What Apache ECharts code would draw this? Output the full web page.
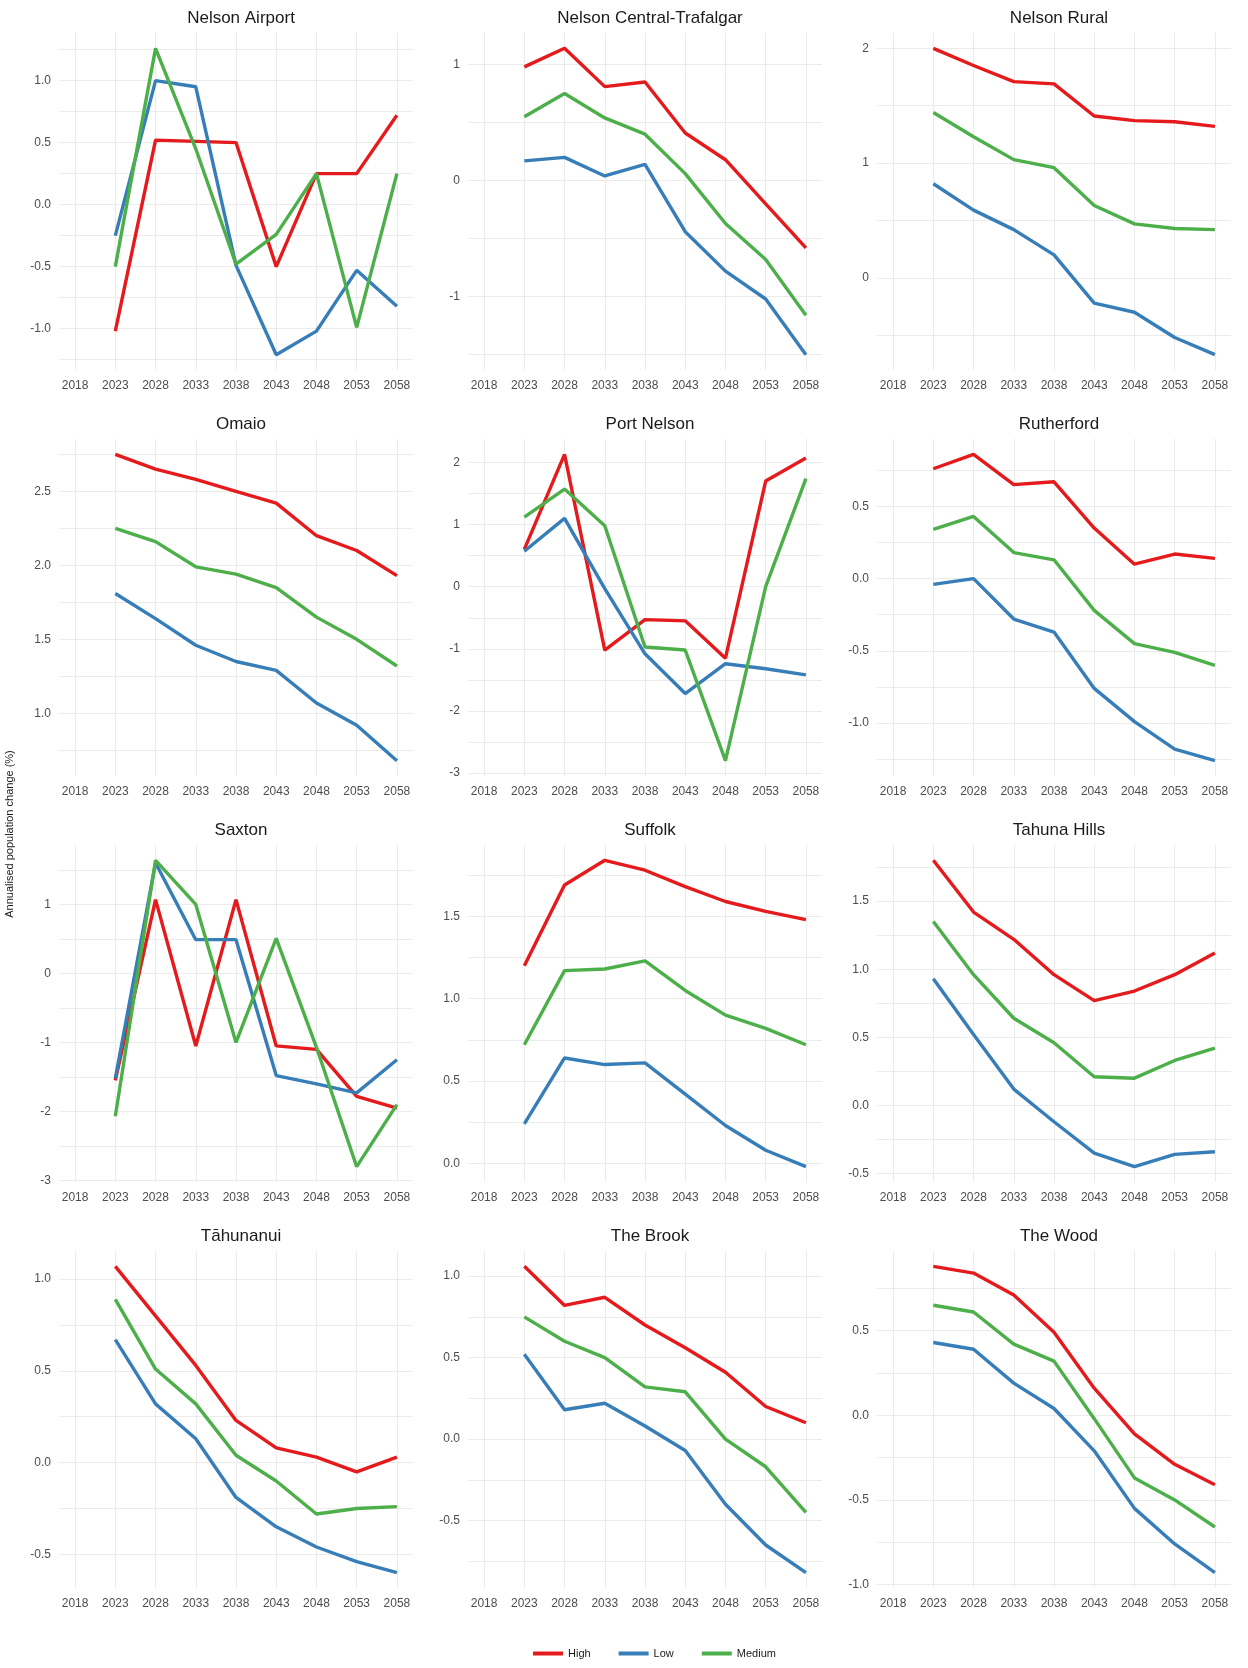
<!DOCTYPE html>
<html>
<head>
<meta charset="utf-8">
<script src="https://cdn.jsdelivr.net/npm/echarts@6/dist/echarts.min.js"></script>
<style>
  html, body { margin: 0; padding: 0; background: #fff; }
  #chart { width: 1248px; height: 1668px; }
</style>
</head>
<body>
<div id="chart"></div>
<script>
const years = [2023, 2028, 2033, 2038, 2043, 2048, 2053, 2058];
const yearTicks = [2018, 2023, 2028, 2033, 2038, 2043, 2048, 2053, 2058];
const areas = ['Nelson Airport', 'Nelson Central-Trafalgar', 'Nelson Rural',
  'Omaio', 'Port Nelson', 'Rutherford',
  'Saxton', 'Suffolk', 'Tahuna Hills',
  'Tāhunanui', 'The Brook', 'The Wood'];
const scenarios = ['High', 'Low', 'Medium'];
const colors = ['#E41A1C', '#377EB8', '#4DAF4A'];

const high = [
  [-1.02, 0.52, 0.51, 0.50, -0.50, 0.25, 0.25, 0.72],
  [0.98, 1.14, 0.81, 0.85, 0.41, 0.18, -0.20, -0.58],
  [2.00, 1.85, 1.71, 1.69, 1.41, 1.37, 1.36, 1.32],
  [2.75, 2.65, 2.58, 2.50, 2.42, 2.20, 2.10, 1.93],
  [0.60, 2.13, -1.02, -0.53, -0.55, -1.15, 1.70, 2.07],
  [0.76, 0.86, 0.65, 0.67, 0.35, 0.10, 0.17, 0.14],
  [-1.55, 1.07, -1.05, 1.07, -1.05, -1.10, -1.78, -1.95],
  [1.20, 1.69, 1.84, 1.78, 1.68, 1.59, 1.53, 1.48],
  [1.80, 1.42, 1.22, 0.96, 0.77, 0.84, 0.96, 1.12],
  [1.07, 0.80, 0.53, 0.23, 0.08, 0.03, -0.05, 0.03],
  [1.06, 0.82, 0.87, 0.70, 0.56, 0.41, 0.20, 0.10],
  [0.88, 0.84, 0.71, 0.49, 0.16, -0.11, -0.29, -0.41]
];
const low = [
  [-0.25, 1.00, 0.95, -0.49, -1.21, -1.02, -0.53, -0.82],
  [0.17, 0.20, 0.04, 0.14, -0.44, -0.78, -1.02, -1.50],
  [0.82, 0.59, 0.42, 0.20, -0.22, -0.30, -0.52, -0.67],
  [1.81, 1.64, 1.46, 1.35, 1.29, 1.07, 0.92, 0.68],
  [0.57, 1.10, -0.03, -1.08, -1.72, -1.24, -1.32, -1.42],
  [-0.04, 0.00, -0.28, -0.37, -0.76, -0.99, -1.18, -1.26],
  [-1.52, 1.60, 0.49, 0.49, -1.48, -1.60, -1.73, -1.25],
  [0.24, 0.64, 0.60, 0.61, 0.42, 0.23, 0.08, -0.02],
  [0.93, 0.52, 0.12, -0.12, -0.35, -0.45, -0.36, -0.34],
  [0.67, 0.32, 0.13, -0.19, -0.35, -0.46, -0.54, -0.60],
  [0.52, 0.18, 0.22, 0.08, -0.07, -0.40, -0.65, -0.82],
  [0.43, 0.39, 0.19, 0.04, -0.21, -0.55, -0.76, -0.93]
];
const medium = [
  [-0.50, 1.26, 0.45, -0.48, -0.24, 0.25, -0.99, 0.25],
  [0.55, 0.75, 0.54, 0.40, 0.06, -0.37, -0.68, -1.16],
  [1.44, 1.23, 1.03, 0.96, 0.63, 0.47, 0.43, 0.42],
  [2.25, 2.16, 1.99, 1.94, 1.85, 1.65, 1.50, 1.32],
  [1.12, 1.57, 0.98, -0.97, -1.02, -2.80, 0.00, 1.74],
  [0.34, 0.43, 0.18, 0.13, -0.22, -0.45, -0.51, -0.60],
  [-2.07, 1.64, 1.00, -1.00, 0.51, -1.07, -2.80, -1.90],
  [0.72, 1.17, 1.18, 1.23, 1.05, 0.90, 0.82, 0.72],
  [1.35, 0.96, 0.64, 0.46, 0.21, 0.20, 0.33, 0.42],
  [0.89, 0.51, 0.32, 0.04, -0.10, -0.28, -0.25, -0.24],
  [0.75, 0.60, 0.50, 0.32, 0.29, 0.00, -0.17, -0.45],
  [0.65, 0.61, 0.42, 0.32, -0.02, -0.37, -0.50, -0.66]
];
const yTicks = [
  [-1, -0.5, 0, 0.5, 1], [-1, 0, 1], [0, 1, 2],
  [1, 1.5, 2, 2.5], [-3, -2, -1, 0, 1, 2], [-1, -0.5, 0, 0.5],
  [-3, -2, -1, 0, 1], [0, 0.5, 1, 1.5], [-0.5, 0, 0.5, 1, 1.5],
  [-0.5, 0, 0.5, 1], [-0.5, 0, 0.5, 1], [-1, -0.5, 0, 0.5]
];

const chart = echarts.init(document.getElementById('chart'));
const grids = [], xAxes = [], yAxes = [], series = [], titles = [];
const font = 'Liberation Sans, Arial';
const gridLine = { show: true, lineStyle: { color: '#ebebeb', width: 1 } };
const labelStyle = { color: '#4d4d4d', fontSize: 12, fontFamily: font };

areas.forEach((name, i) => {
  const col = i % 3, row = Math.floor(i / 3);
  const left = 59 + col * 409, top = 33 + row * 406, w = 354, h = 337;
  grids.push({ left: left, top: top, width: w, height: h });
  titles.push({
    text: name, left: left + w / 2, top: top - 28, textAlign: 'center',
    textStyle: { fontSize: 17, fontWeight: 'normal', color: '#1a1a1a', fontFamily: font }
  });
  // y range like ggplot: data range plus 5% each side
  const all = high[i].concat(low[i], medium[i]);
  const lo = Math.min(...all), hi = Math.max(...all), pad = (hi - lo) * 0.05;
  const mn = lo - pad, mx = hi + pad;
  const ticks = yTicks[i], step = ticks[1] - ticks[0];
  const dec = step < 1 ? 1 : 0;
  // major + minor grid lines
  const lines = [];
  for (let v = ticks[0] - step / 2; v <= ticks[ticks.length - 1] + step / 2 + 1e-9; v += step / 2) {
    if (v >= mn && v <= mx) lines.push(+v.toFixed(3));
  }
  xAxes.push({
    type: 'value', gridIndex: i, min: 2016, max: 2060,
    axisLine: { show: false },
    axisTick: { show: false, customValues: yearTicks },
    axisLabel: Object.assign({ customValues: yearTicks, margin: 10, formatter: v => String(v) }, labelStyle),
    splitLine: gridLine
  });
  yAxes.push({
    type: 'value', gridIndex: i, min: mn, max: mx,
    axisLine: { show: false },
    axisTick: { show: false, customValues: lines },
    axisLabel: Object.assign({ customValues: ticks, margin: 8, formatter: v => v.toFixed(dec) }, labelStyle),
    splitLine: gridLine
  });
  [high[i], low[i], medium[i]].forEach((vals, k) => {
    series.push({
      name: scenarios[k], type: 'line', xAxisIndex: i, yAxisIndex: i,
      data: years.map((y, j) => [y, vals[j]]),
      showSymbol: false, symbol: 'none',
      lineStyle: { width: 3.4, color: colors[k] }, itemStyle: { color: colors[k] }
    });
  });
});

chart.setOption({
  backgroundColor: '#fff',
  animation: false,
  title: titles,
  grid: grids,
  xAxis: xAxes,
  yAxis: yAxes,
  series: series,
  graphic: [{
    type: 'text', left: 4, top: 'middle', rotation: Math.PI / 2,
    style: { text: 'Annualised population change (%)', fontSize: 11, fill: '#1a1a1a', fontFamily: font }
  }],
  legend: {
    data: scenarios, bottom: 4, left: 528, itemWidth: 30, itemHeight: 4, itemGap: 28,
    icon: 'rect',
    textStyle: { fontSize: 11, color: '#1a1a1a', fontFamily: font }
  }
});
</script>
</body>
</html>
